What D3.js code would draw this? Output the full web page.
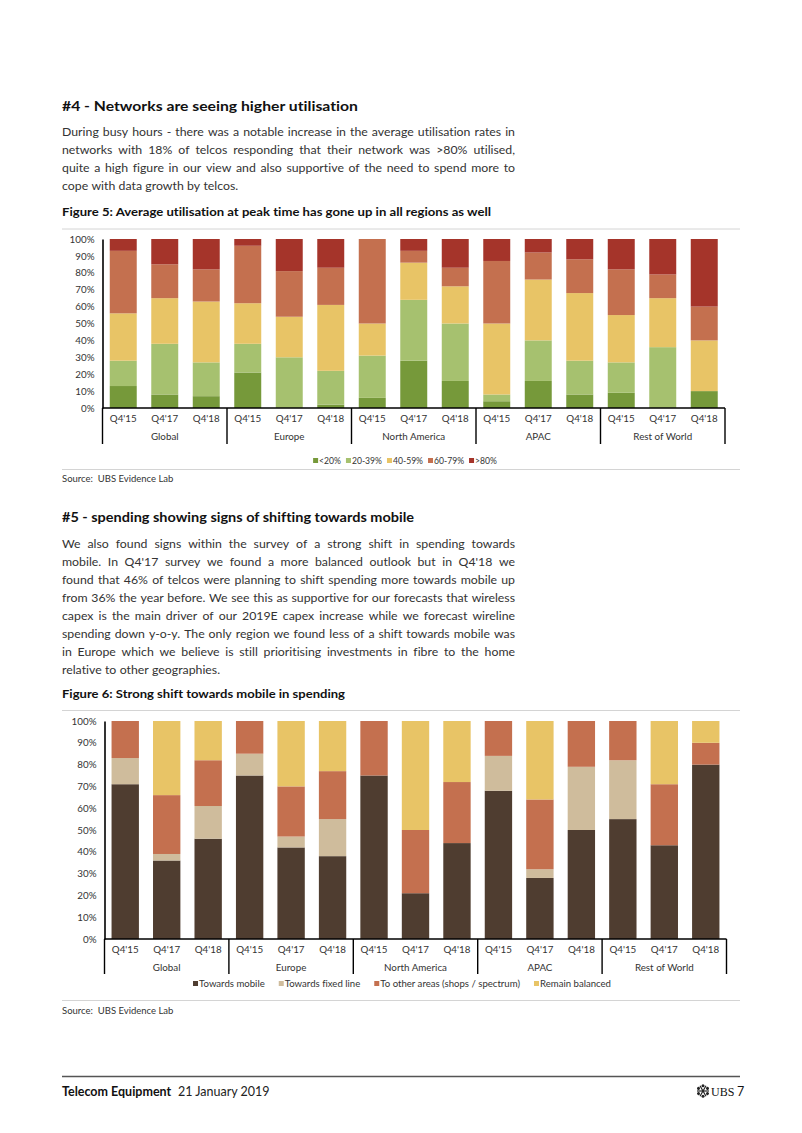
<!DOCTYPE html>
<html><head><meta charset="utf-8">
<script src="https://cdn.jsdelivr.net/npm/d3@7"></script>
<style>
body{margin:0;background:#fff;}
svg{display:block;font-family:Lato,'Open Sans',sans-serif;font-variant-ligatures:none;}
text{white-space:pre;}
</style>
</head><body>
<svg id="page" width="802" height="1133"></svg>
<script>
// ---------- DATA ----------
const regions = ["Global", "Europe", "North America", "APAC", "Rest of World"];
const periods = ["Q4'15", "Q4'17", "Q4'18"];
const yTicks = [0, 0.1, 0.2, 0.3, 0.4, 0.5, 0.6, 0.7, 0.8, 0.9, 1.0];

// Figure 5: utilisation bands (%), 15 bars: region x period
const utilKeys = ["<20%", "20-39%", "40-59%", "60-79%", ">80%"];
const utilLt20  = [13, 8, 7, 21, 0, 2, 6, 28, 16, 4, 16, 8, 9, 0, 10];
const util20_39 = [15, 30, 20, 17, 30, 20, 25, 36, 34, 4, 24, 20, 18, 36, 0];
const util40_59 = [28, 27, 36, 24, 24, 39, 19, 22, 22, 42, 36, 40, 28, 29, 30];
const util60_79 = [37, 20, 19, 34, 27, 22, 50, 7, 11, 37, 16, 20, 27, 14, 20];
const utilGt80  = [7, 15, 18, 4, 19, 17, 0, 7, 17, 13, 8, 12, 18, 21, 40];

// Figure 6: spending shift (%)
const spendKeys = ["Towards mobile", "Towards fixed line", "To other areas (shops / spectrum)", "Remain balanced"];
const spendMobile   = [71, 36, 46, 75, 42, 38, 75, 21, 44, 68, 28, 50, 55, 43, 80];
const spendFixed    = [12, 3, 15, 10, 5, 17, 0, 0, 0, 16, 4, 29, 27, 0, 0];
const spendOther    = [17, 27, 21, 15, 23, 22, 25, 29, 28, 16, 32, 21, 18, 28, 10];
const spendBalanced = [0, 34, 18, 0, 30, 23, 0, 50, 28, 0, 36, 0, 0, 29, 10];

// ---------- TEXT ----------
const para1 = [
  "During busy hours - there was a notable increase in the average utilisation rates in",
  "networks with 18% of telcos responding that their network was >80% utilised,",
  "quite a high figure in our view and also supportive of the need to spend more to",
  "cope with data growth by telcos."
];
const para2 = [
  "We also found signs within the survey of a strong shift in spending towards",
  "mobile. In Q4'17 survey we found a more balanced outlook but in Q4'18 we",
  "found that 46% of telcos were planning to shift spending more towards mobile up",
  "from 36% the year before. We see this as supportive for our forecasts that wireless",
  "capex is the main driver of our 2019E capex increase while we forecast wireline",
  "spending down y-o-y. The only region we found less of a shift towards mobile was",
  "in Europe which we believe is still prioritising investments in fibre to the home",
  "relative to other geographies."
];

const svg = d3.select("#page");
const LEFT = 62, TEXTW = 453, RIGHT = 740;

function heading(txt, y, size, w) {
  const t = svg.append("text").attr("x", LEFT).attr("y", y)
    .attr("font-size", size).attr("font-weight", 700).attr("fill", "#111").text(txt);
  if (w) t.attr("textLength", w).attr("lengthAdjust", "spacingAndGlyphs");
}

function paragraph(lines, y0, lh) {
  lines.forEach((line, i) => {
    const y = y0 + i * lh;
    const words = line.split(" ");
    const g = svg.append("g").attr("font-size", 12.3).attr("fill", "#333");
    const nodes = words.map(w => g.append("text").attr("y", y).text(w));
    const widths = nodes.map(s => s.node().getComputedTextLength());
    const total = d3.sum(widths);
    const last = i === lines.length - 1;
    let gap = last ? 3.3 : (TEXTW - total) / (words.length - 1);
    let scale = 1;
    if (gap < 2.2) {
      scale = (TEXTW - 2.2 * (words.length - 1)) / total;
      gap = 2.2;
    }
    let x = LEFT;
    nodes.forEach((s, k) => {
      s.attr("x", x);
      if (scale !== 1) s.attr("textLength", widths[k] * scale).attr("lengthAdjust", "spacingAndGlyphs");
      x += widths[k] * scale + gap;
    });
  });
}

function rule(y, col, w) {
  svg.append("line").attr("x1", LEFT).attr("x2", RIGHT).attr("y1", y).attr("y2", y)
    .attr("stroke", col).attr("stroke-width", w);
}

function chart(cfg) {
  const g = svg.append("g");
  const n = cfg.series[0].length;
  const rows = d3.range(n).map(i => {
    const r = { i: i };
    cfg.keys.forEach((k, j) => r[k] = cfg.series[j][i] / 100);
    return r;
  });
  const stack = d3.stack().keys(cfg.keys)(rows);
  const x = d3.scaleBand().domain(d3.range(n)).range([cfg.x0, cfg.x1])
    .paddingInner(cfg.pad).paddingOuter(cfg.pad / 2);
  const y = d3.scaleLinear().domain([0, 1]).range([cfg.yb, cfg.yt]);

  g.selectAll("g.layer").data(stack).join("g").attr("fill", (d, j) => cfg.colors[j])
    .selectAll("rect").data(d => d).join("rect")
    .attr("x", d => x(d.data.i)).attr("width", x.bandwidth())
    .attr("y", d => y(d[1])).attr("height", d => Math.max(0, y(d[0]) - y(d[1])));

  const ya = g.append("g").attr("transform", `translate(${cfg.x0},0)`)
    .call(d3.axisLeft(y).tickValues(yTicks).tickFormat(d3.format(".0%")).tickSize(0).tickPadding(8));
  ya.select(".domain").attr("stroke", "#000").attr("stroke-width", 1.6);
  ya.selectAll("text").attr("font-family", "Lato,'Open Sans',sans-serif").attr("font-size", 9.8).attr("fill", "#333");

  const xa = g.append("g").attr("transform", `translate(0,${cfg.yb})`)
    .call(d3.axisBottom(x).tickFormat(i => periods[i % 3]).tickSize(0).tickPadding(cfg.tickPad));
  xa.select(".domain").remove();
  xa.selectAll("text").attr("font-family", "Lato,'Open Sans',sans-serif").attr("font-size", 9.8).attr("fill", "#333");
  g.append("line").attr("x1", cfg.x0).attr("x2", cfg.x1).attr("y1", cfg.yb).attr("y2", cfg.yb)
    .attr("stroke", "#000").attr("stroke-width", 1.6);

  const gw = (cfg.x1 - cfg.x0) / regions.length;
  d3.range(regions.length + 1).forEach(k => {
    g.append("line").attr("x1", cfg.x0 + k * gw).attr("x2", cfg.x0 + k * gw)
      .attr("y1", cfg.yb).attr("y2", cfg.yb + cfg.sepLen).attr("stroke", "#000").attr("stroke-width", 1.4);
  });
  regions.forEach((r, k) => {
    g.append("text").attr("x", cfg.x0 + (k + 0.5) * gw).attr("y", cfg.yb + cfg.regPad)
      .attr("text-anchor", "middle").attr("font-size", 9.8).attr("fill", "#333").text(r);
  });

  const lg = g.append("g");
  let lx = 0;
  cfg.keys.forEach((k, j) => {
    const it = lg.append("g").attr("transform", `translate(${lx},0)`);
    it.append("rect").attr("x", 0).attr("y", -5.5).attr("width", 5).attr("height", 5).attr("fill", cfg.colors[j]);
    const t = it.append("text").attr("x", 6).attr("y", 0).attr("font-size", cfg.legFont).attr("fill", "#333").text(k);
    lx += 6 + t.node().getComputedTextLength() + cfg.legGap;
  });
  const lw = lx - cfg.legGap;
  lg.attr("transform", `translate(${cfg.legCx - lw / 2},${cfg.legY})`);
}

// ---------- SECTION #4 ----------
heading("#4 - Networks are seeing higher utilisation", 111, 13.6, 296);
paragraph(para1, 135.5, 18);
heading("Figure 5: Average utilisation at peak time has gone up in all regions as well", 216, 11, 429);
rule(229, "#d4d4d4", 1);
chart({
  keys: utilKeys,
  series: [utilLt20, util20_39, util40_59, util60_79, utilGt80],
  colors: ["#76993a", "#a6c16f", "#e8c466", "#c4704f", "#a5342a"],
  x0: 102.5, x1: 725, yt: 239, yb: 408, pad: 0.35,
  tickPad: 7, regPad: 32, sepLen: 36,
  legY: 463.5, legCx: 405, legGap: 5, legFont: 8.6
});
rule(469.5, "#d4d4d4", 1);
svg.append("text").attr("x", LEFT).attr("y", 481.5).attr("font-size", 9.5).attr("fill", "#333").text("Source:  UBS Evidence Lab");

// ---------- SECTION #5 ----------
heading("#5 - spending showing signs of shifting towards mobile", 522, 13.6, 352);
paragraph(para2, 547.5, 18);
heading("Figure 6: Strong shift towards mobile in spending", 697.5, 11, 283);
rule(710.5, "#d4d4d4", 1);
chart({
  keys: spendKeys,
  series: [spendMobile, spendFixed, spendOther, spendBalanced],
  colors: ["#4f3d30", "#cfbc9c", "#c4704f", "#e8c466"],
  x0: 104.5, x1: 726.5, yt: 721, yb: 939, pad: 0.34,
  tickPad: 7, regPad: 31.5, sepLen: 35,
  legY: 986.5, legCx: 402, legGap: 14, legFont: 9.6
});
rule(1000.5, "#d4d4d4", 1);
svg.append("text").attr("x", LEFT).attr("y", 1013.5).attr("font-size", 9.5).attr("fill", "#333").text("Source:  UBS Evidence Lab");

// ---------- FOOTER ----------
rule(1076.5, "#555", 1.4);
svg.append("text").attr("x", LEFT).attr("y", 1095.5).attr("font-size", 12.5).attr("font-weight", 700).attr("fill", "#111")
  .text("Telecom Equipment");
svg.append("text").attr("x", 178).attr("y", 1095.5).attr("font-size", 12.5).attr("fill", "#222").text("21 January 2019");
const logo = svg.append("g").attr("transform", "translate(703,1091)").attr("fill", "#222").attr("stroke", "#222");
[0, 60, 120].forEach(a => {
  logo.append("line").attr("x1", -6).attr("x2", 6).attr("y1", 0).attr("y2", 0)
    .attr("stroke-width", 1.2).attr("transform", `rotate(${a})`);
});
[0, 60, 120, 180, 240, 300].forEach(a => {
  logo.append("circle").attr("cx", 5.2).attr("cy", 0).attr("r", 1.5).attr("stroke", "none")
    .attr("transform", `rotate(${a + 30})`);
});
svg.append("text").attr("x", 711).attr("y", 1096).attr("font-family", "'Liberation Serif',serif")
  .attr("font-size", 12).attr("fill", "#111").text("UBS");
svg.append("text").attr("x", 737).attr("y", 1095.5).attr("font-size", 12.5).attr("fill", "#111").text("7");
</script>
</body></html>
